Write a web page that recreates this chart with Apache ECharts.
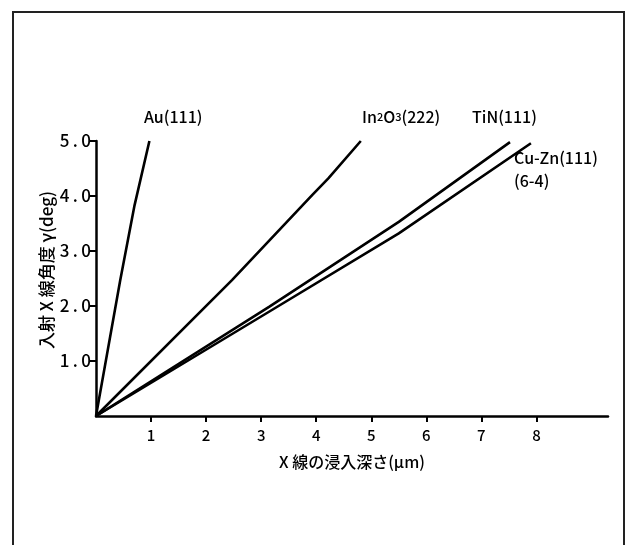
<!DOCTYPE html>
<html>
<head>
<meta charset="utf-8">
<script src="https://cdn.jsdelivr.net/npm/echarts@6/dist/echarts.min.js"></script>
<style>
  html, body { margin: 0; padding: 0; background: #fff; }
  #chart { width: 632px; height: 545px; }
</style>
</head>
<body>
<div id="chart"></div>
<script>
// 各試料の入射角 γ(deg) と X線の浸入深さ(μm) の関係
const auDepth = [0, 0.44, 0.70, 0.97];
const auAngle = [0, 2.47, 3.83, 5.0];

const in2o3Depth = [0, 2.47, 3.93, 4.22, 4.81];
const in2o3Angle = [0, 2.47, 4.02, 4.32, 5.0];

const tinDepth = [0, 3.15, 5.5, 7.52];
const tinAngle = [0, 1.99, 3.53, 4.98];

const cuznDepth = [0, 3.15, 5.5, 7.9];
const cuznAngle = [0, 1.90, 3.32, 4.96];

const xTicks = [1, 2, 3, 4, 5, 6, 7, 8];
const yTicks = [1, 2, 3, 4, 5];

const FONT = '"Noto Sans CJK JP", "DejaVu Sans", sans-serif';

function pairs(xs, ys) {
    return xs.map((x, i) => [x, ys[i]]);
}

function lineSeries(name, xs, ys) {
    return {
        name: name,
        type: 'line',
        data: pairs(xs, ys),
        showSymbol: false,
        smooth: false,
        lineStyle: { color: '#000', width: 2.6 },
        z: 3
    };
}

const chart = echarts.init(document.getElementById('chart'));
chart.setOption({
    animation: false,
    backgroundColor: '#fff',
    grid: { left: 96, top: 141, width: 512, height: 275 },
    xAxis: {
        type: 'value',
        min: 0, max: 9.3, interval: 1,
        name: 'X 線の浸入深さ(μm)',
        nameLocation: 'middle',
        nameGap: 38,
        nameTextStyle: { color: '#000', fontSize: 16, fontWeight: 500, fontFamily: FONT },
        axisLine: { lineStyle: { color: '#000', width: 2.5 } },
        axisTick: { show: true, length: 6, lineStyle: { color: '#000', width: 2 }, customValues: xTicks },
        axisLabel: { color: '#000', fontSize: 15, fontWeight: 500, fontFamily: FONT, margin: 12, customValues: xTicks },
        splitLine: { show: false }
    },
    yAxis: {
        type: 'value',
        min: 0, max: 5, interval: 1,
        axisLine: { show: true, lineStyle: { color: '#000', width: 2.5 } },
        axisTick: { show: true, length: 6, lineStyle: { color: '#000', width: 2 }, customValues: yTicks },
        axisLabel: {
            color: '#000', fontSize: 17, fontWeight: 500, fontFamily: FONT, margin: 5,
            customValues: yTicks,
            formatter: v => v.toFixed(1).split('').join('\u2009')
        },
        splitLine: { show: false }
    },
    graphic: [
        {
            type: 'rect', z: 0, silent: true,
            shape: { x: 13, y: 12, width: 611, height: 560 },
            style: { fill: 'none', stroke: '#222', lineWidth: 2 }
        },
        {
            type: 'text', x: 47, y: 270, rotation: Math.PI / 2,
            style: {
                text: '入射 X 線角度 γ(deg)', font: '500 17px ' + FONT, fill: '#000',
                align: 'center', verticalAlign: 'middle'
            }
        },
        { type: 'text', left: 144, top: 109, style: { text: 'Au(111)', font: '500 16px ' + FONT, fill: '#000' } },
        {
            type: 'text', left: 362, top: 109,
            style: {
                text: '{n|In}{s|2}{n|O}{s|3}{n|(222)}',
                rich: {
                    n: { fontSize: 16, fontWeight: 500, fontFamily: FONT, fill: '#000' },
                    s: { fontSize: 11, fontWeight: 500, fontFamily: FONT, fill: '#000', verticalAlign: 'middle' }
                }
            }
        },
        { type: 'text', left: 472, top: 109, style: { text: 'TiN(111)', font: '500 16px ' + FONT, fill: '#000' } },
        { type: 'text', left: 514, top: 150, style: { text: 'Cu-Zn(111)', font: '500 16px ' + FONT, fill: '#000' } },
        { type: 'text', left: 514, top: 173, style: { text: '(6-4)', font: '500 16px ' + FONT, fill: '#000' } }
    ],
    series: [
        lineSeries('Au(111)', auDepth, auAngle),
        lineSeries('In2O3(222)', in2o3Depth, in2o3Angle),
        lineSeries('TiN(111)', tinDepth, tinAngle),
        lineSeries('Cu-Zn(111)', cuznDepth, cuznAngle)
    ]
});
</script>
</body>
</html>
